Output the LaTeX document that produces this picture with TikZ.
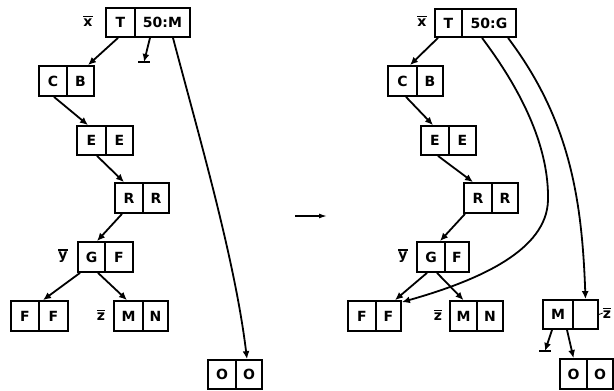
\documentclass[tikz,border=0pt]{standalone}
\usepackage{fontspec}
\setsansfont{DejaVu Sans}
\usetikzlibrary{arrows.meta}
\newcommand\ovl[1]{\vbox{\hrule height 1.3pt\kern1.6pt\hbox{#1}}}
\begin{document}
\begin{tikzpicture}[x=1pt,y=-1pt,
  cellbox/.style={draw, line width=1.8pt, inner sep=0pt, font=\sffamily\bfseries\fontsize{14}{14}\selectfont},
  ptr/.style={line width=1.8pt, -{Latex[length=8pt,width=7pt]}},
  thinptr/.style={line width=1.4pt, -{Latex[length=8pt,width=5pt]}},
  gnd/.style={line width=1.8pt},
  lbl/.style={font=\sffamily\bfseries\fontsize{14}{14}\selectfont, inner sep=0pt}]
\useasboundingbox (0,0) rectangle (614,391);
\newcommand\mycell[6]{%
  \pgfmathsetmacro\cw{#4-#2}\pgfmathsetmacro\ch{#5-#3}%
  \node[cellbox, minimum width=\cw pt, minimum height=\ch pt] (#1) at ({(#2+#4)/2},{(#3+#5)/2}) {#6};}
% ---------- left tree ----------
\mycell{lT}{106}{8}{135}{37}{T}
\mycell{lK}{135}{8}{190}{37}{50:M}
\mycell{lC}{39}{66}{67}{96}{C}
\mycell{lB}{67}{66}{94}{96}{B}
\mycell{lE1}{77}{126}{106}{155}{E}
\mycell{lE2}{106}{126}{133}{155}{E}
\mycell{lR1}{115}{183}{143}{213}{R}
\mycell{lR2}{143}{183}{169}{213}{R}
\mycell{lG}{78}{242}{105}{272}{G}
\mycell{lGF}{105}{242}{133}{272}{F}
\mycell{lFa}{11}{301}{39}{331}{F}
\mycell{lFb}{39}{301}{68}{331}{F}
\mycell{lM}{114}{301}{143}{331}{M}
\mycell{lN}{143}{301}{168}{331}{N}
\mycell{lO1}{208}{360}{236}{389}{O}
\mycell{lO2}{236}{360}{262}{389}{O}
\node[lbl] (lx) at (88,21) {\ovl{x}};
\node[lbl] (ly) at (63,256) {\ovl{y}};
\node[lbl] (lz) at (101,315) {\ovl{z}};
\coordinate (lg) at (144,62);
\draw[ptr] ([xshift=-2.5pt]lT.south) -- ([xshift=7.5pt]lB.north);
\draw[ptr] ([xshift=-12.5pt]lK.south) -- (lg);
\draw[gnd] ([xshift=-6pt]lg) -- ([xshift=6pt]lg);
\draw[ptr] ([xshift=10.5pt]lK.south) .. controls (200,140) and (235,260) .. ([xshift=-2pt]lO2.north);
\draw[ptr] ([xshift=1pt]lC.south) -- ([xshift=-3.5pt]lE1.north);
\draw[ptr] ([xshift=5.5pt]lE1.south) -- ([xshift=-5pt]lR1.north);
\draw[ptr] ([xshift=-7pt]lR1.south) -- ([xshift=5.5pt]lG.north);
\draw[ptr] ([xshift=-11.5pt]lG.south) -- ([xshift=-10.5pt]lFb.north);
\draw[ptr] ([xshift=6.5pt]lG.south) -- ([xshift=-1.5pt]lM.north);
% ---------- middle arrow ----------
\coordinate (ma) at (295,216);
\coordinate (mb) at (327,216);
\draw[thinptr] (ma) -- (mb);
% ---------- right tree ----------
\mycell{rT}{435}{9}{462}{37}{T}
\mycell{rK}{462}{9}{516}{37}{50:G}
\mycell{rC}{388}{66}{417}{96}{C}
\mycell{rB}{417}{66}{443}{96}{B}
\mycell{rE1}{421}{126}{449}{155}{E}
\mycell{rE2}{449}{126}{476}{155}{E}
\mycell{rR1}{464}{183}{492}{213}{R}
\mycell{rR2}{492}{183}{518}{213}{R}
\mycell{rG}{417}{242}{445}{272}{G}
\mycell{rGF}{445}{242}{469}{272}{F}
\mycell{rFa}{348}{301}{376}{331}{F}
\mycell{rFb}{376}{301}{401}{331}{F}
\mycell{rM}{450}{301}{477}{331}{M}
\mycell{rN}{477}{301}{503}{331}{N}
\mycell{rM3}{543}{300}{573}{329}{M}
\mycell{rE3}{573}{300}{598}{329}{}
\mycell{rO1}{560}{359}{587}{389}{O}
\mycell{rO2}{587}{359}{613}{389}{O}
\node[lbl] (rx) at (422,21) {\ovl{x}};
\node[lbl] (ry) at (403,256) {\ovl{y}};
\node[lbl] (rz) at (438,315) {\ovl{z}};
\node[lbl] (rz2) at (607,313) {\ovl{z}};
\draw[line width=0.8pt] (rE3.east) -- (rz2.west);
\coordinate (rg) at (545,351);
\draw[ptr] ([xshift=-10.5pt]rT.south) -- ([xshift=7.5pt]rC.north);
\draw[ptr] ([xshift=3.5pt]rC.south) -- ([xshift=-2pt]rE1.north);
\draw[ptr] ([xshift=3pt]rE1.south) -- ([xshift=-5pt]rR1.north);
\draw[ptr] ([xshift=-13pt]rR1.south) -- ([xshift=9pt]rG.north);
\draw[ptr] ([xshift=-4pt]rG.south) -- ([xshift=6.5pt]rFb.north);
\draw[ptr] ([xshift=6pt]rG.south) -- (rM.north);
\draw[ptr] ([xshift=-7pt]rK.south) .. controls (525,95) and (549,150) .. (548,200)
   .. controls (547,250) and (480,280) .. ([yshift=-2pt]rFb.north east);
\draw[ptr] ([xshift=19pt]rK.south) .. controls (570,120) and (582,200) .. (rE3.north);
\draw[ptr] ([xshift=-6pt]rM3.south) -- (rg);
\draw[gnd] ([xshift=-6pt]rg) -- ([xshift=6pt]rg);
\draw[ptr] ([xshift=9pt]rM3.south) -- (rO1.north);
\end{tikzpicture}
\end{document}
